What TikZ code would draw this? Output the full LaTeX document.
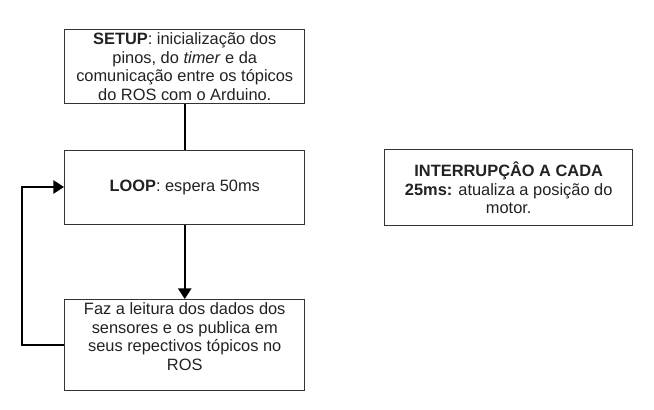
\documentclass[tikz,border=0pt]{standalone}
\usepackage{fontspec}
\setmainfont{Liberation Sans}
\usetikzlibrary{arrows.meta}
\definecolor{edge}{HTML}{333333}
\definecolor{txt}{HTML}{222222}
\tikzset{
  box/.style={draw=edge, line width=1.1pt, fill=white, minimum width=180pt, align=center, text=txt, font=\fontsize{12.3}{14}\selectfont, inner sep=0pt},
  conn/.style={draw=black, line width=1.3pt},
  arr/.style={conn, -{Triangle[length=8pt,width=10pt]}}
}
\begin{document}
\begin{tikzpicture}[x=0.75pt,y=-0.75pt]
\useasboundingbox (0,0) rectangle (654,410);
\node[box, minimum height=55.5pt, anchor=north west] (setup) at (64,29) {\textbf{SETUP}: inicialização dos\\ pinos, do \textit{timer} e da\\ comunicação entre os tópicos\\ do ROS com o Arduino.};
\node[box, minimum height=55.5pt, anchor=north west] (loop) at (64,150) {\textbf{LOOP}: espera 50ms};
\node[box, minimum height=68pt, anchor=north west] (read) at (64,299) {};
\node[align=center, text=txt, font=\fontsize{12.3}{14}\selectfont, inner sep=0pt, anchor=north] (readtxt) at ([yshift=-2.5pt]read.north) {Faz a leitura dos dados dos\\ sensores e os publica em\\ seus repectivos tópicos no\\ ROS};
\node[box, minimum width=186pt, minimum height=57pt, anchor=north west] (intr) at (384,149) {\textbf{INTERRUPÇÂO A CADA}\\ \textbf{25ms:} atualiza a posição do\\ motor.};
\coordinate (c1) at (22,345);
\coordinate (c2) at (22,187);
\draw[conn] (setup.south) -- (loop.north);
\draw[arr] (loop.south) -- (read.north);
\draw[arr] (read.west |- c1) -- (c1) -- (c2) -- (loop.west |- c2);
\end{tikzpicture}
\end{document}
